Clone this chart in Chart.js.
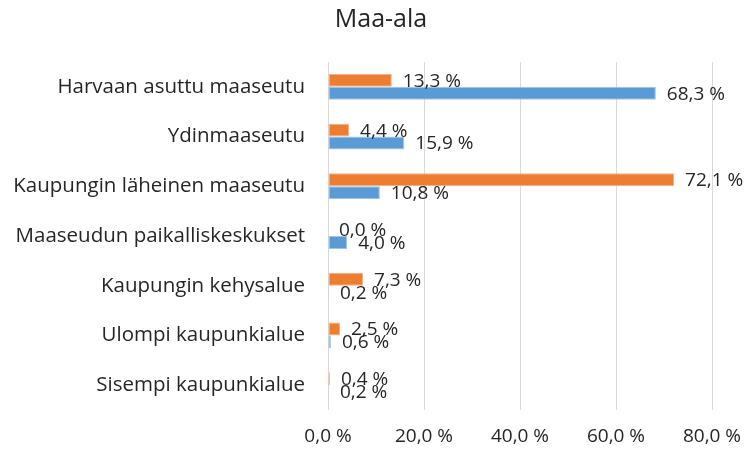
<!DOCTYPE html>
<html lang="fi">
<head>
    <meta charset="UTF-8">
    <title>Maa-ala</title>
    <script src="https://cdn.jsdelivr.net/npm/chart.js"></script>
    <style>
        html, body { margin: 0; padding: 0; background: #fff; }
        .chart-container { position: relative; width: 748px; height: 455px; }
    </style>
</head>
<body>
    <div class="chart-container">
        <canvas id="maaChart"></canvas>
    </div>

    <script>
        // Aluetyypit ylhäältä alas
        const categories = [
            'Harvaan asuttu maaseutu',
            'Ydinmaaseutu',
            'Kaupungin läheinen maaseutu',
            'Maaseudun paikalliskeskukset',
            'Kaupungin kehysalue',
            'Ulompi kaupunkialue',
            'Sisempi kaupunkialue'
        ];
        const orangeValues = [13.3, 4.4, 72.1, 0.0, 7.3, 2.5, 0.4];
        const blueValues = [68.3, 15.9, 10.8, 4.0, 0.2, 0.6, 0.2];
        const xTicks = [0, 20, 40, 60, 80];

        const fontName = "'Open Sans', 'DejaVu Sans', sans-serif";
        const fmt = v => v.toFixed(1).replace('.', ',') + ' %';

        // Arvot palkkien perään
        const valueLabels = {
            id: 'valueLabels',
            afterDatasetsDraw(chart) {
                const ctx = chart.ctx;
                ctx.save();
                ctx.font = '19px ' + fontName;
                ctx.fillStyle = '#262626';
                ctx.textAlign = 'left';
                ctx.textBaseline = 'middle';
                chart.data.datasets.forEach((ds, i) => {
                    chart.getDatasetMeta(i).data.forEach((bar, j) => {
                        ctx.fillText(fmt(ds.data[j]), bar.x + 11, bar.y + 1);
                    });
                });
                ctx.restore();
            }
        };

        const ctx = document.getElementById('maaChart').getContext('2d');
        new Chart(ctx, {
            type: 'bar',
            data: {
                labels: categories,
                datasets: [{
                    label: 'Sarja 2',
                    data: orangeValues,
                    backgroundColor: '#ED7D31',
                    borderColor: '#F4B183',
                    borderWidth: 1,
                    borderSkipped: false,
                    barPercentage: 1,
                    categoryPercentage: 0.52
                }, {
                    label: 'Sarja 1',
                    data: blueValues,
                    backgroundColor: '#5B9BD5',
                    borderColor: '#9DC3E6',
                    borderWidth: 1,
                    borderSkipped: false,
                    barPercentage: 1,
                    categoryPercentage: 0.52
                }]
            },
            options: {
                indexAxis: 'y',
                responsive: true,
                maintainAspectRatio: false,
                animation: false,
                layout: { padding: { left: 14, right: 0, top: 0, bottom: 0 } },
                scales: {
                    x: {
                        min: 0,
                        max: 80,
                        afterBuildTicks: scale => { scale.ticks = xTicks.map(v => ({ value: v })); },
                        afterFit: scale => {
                            scale.height = 45;
                            scale.paddingLeft = 0;
                            scale.paddingRight = 36;
                        },
                        grid: { color: '#D9D9D9', drawTicks: false },
                        border: { display: false },
                        ticks: {
                            padding: 15,
                            maxRotation: 0,
                            color: '#262626',
                            font: { family: fontName, size: 19 },
                            callback: v => fmt(v)
                        }
                    },
                    y: {
                        afterFit: scale => { scale.width = 314; },
                        grid: { display: false, drawTicks: false },
                        border: { display: false },
                        ticks: {
                            padding: 23,
                            color: '#262626',
                            font: { family: fontName, size: 20.5 }
                        }
                    }
                },
                plugins: {
                    legend: { display: false },
                    tooltip: { enabled: false },
                    title: {
                        display: true,
                        text: 'Maa-ala',
                        color: '#262626',
                        font: { family: fontName, size: 25, weight: 'normal' },
                        padding: { top: 5, bottom: 27 }
                    }
                }
            },
            plugins: [valueLabels]
        });
    </script>
</body>
</html>
